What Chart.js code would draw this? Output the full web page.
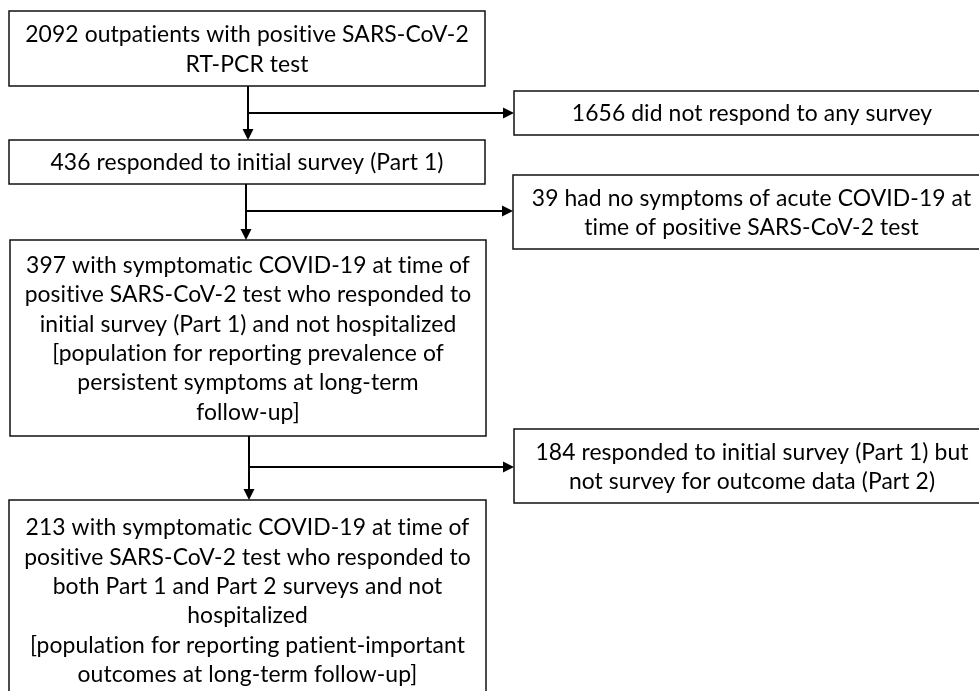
<!DOCTYPE html>
<html>
<head>
<meta charset="utf-8">
<script src="https://cdn.jsdelivr.net/npm/chart.js@4.4.0/dist/chart.umd.min.js"></script>
<style>
  html, body { margin: 0; padding: 0; background: #fff; }
  #wrap { width: 979px; height: 691px; }
</style>
</head>
<body>
<div id="wrap"><canvas id="flow"></canvas></div>
<script>
// box texts (main column, then exclusions)
var mainLabels = [
    ['2092 outpatients with positive SARS-CoV-2', 'RT-PCR test'],
    ['436 responded to initial survey (Part 1)'],
    ['397 with symptomatic COVID-19 at time of', 'positive SARS-CoV-2 test who responded to',
     'initial survey (Part 1) and not hospitalized', '[population for reporting prevalence of',
     'persistent symptoms at long-term', 'follow-up]'],
    ['213 with symptomatic COVID-19 at time of', 'positive SARS-CoV-2 test who responded to',
     'both Part 1 and Part 2 surveys and not', 'hospitalized',
     '[population for reporting patient-important', 'outcomes at long-term follow-up]']
];
var sideLabels = [
    ['1656 did not respond to any survey'],
    ['39 had no symptoms of acute COVID-19 at', 'time of positive SARS-CoV-2 test'],
    ['184 responded to initial survey (Part 1) but', 'not survey for outcome data (Part 2)']
];

// layout in axis units (x 0..979, y 0..691 top-down)
var mainBoxes = [[9, 11, 485, 86], [9, 140, 485, 184], [10, 240, 486, 436], [9, 500, 486, 720]];
var sideBoxes = [[514, 91, 990, 135], [513, 175, 990, 249], [514, 429, 990, 503]];
var stems = [[248, 113], [246, 211], [249, 467]]; // x of down arrow, y of branch

var fontFamily = 'Lato, "Noto Sans", sans-serif';
var lineGap = 29.3;

var flowPlugin = {
    id: 'flow',
    afterDraw: function(chart) {
        var ctx = chart.ctx;
        var sx = chart.scales.x, sy = chart.scales.y;
        function px(v) { return sx.getPixelForValue(v); }
        function py(v) { return sy.getPixelForValue(v); }

        // no "ti" ligatures, then fit font to the widest reference line (444px)
        ctx.letterSpacing = '0.1px';
        ctx.font = '24px ' + fontFamily;
        var fs = 24 * 444 / ctx.measureText(mainLabels[2][0]).width;
        var font = fs + 'px ' + fontFamily;

        function drawBox(b, lines) {
            ctx.save();
            ctx.strokeStyle = '#111';
            ctx.lineWidth = 1.5;
            ctx.strokeRect(px(b[0]), py(b[1]), px(b[2]) - px(b[0]), py(b[3]) - py(b[1]));
            ctx.fillStyle = '#000';
            ctx.font = font;
            ctx.letterSpacing = '0.1px';
            ctx.textAlign = 'center';
            ctx.textBaseline = 'middle';
            var cx = (px(b[0]) + px(b[2])) / 2;
            // last box runs off the bottom, so its text starts from the top
            var first = b[3] > 691 ? b[1] + 27
                : (b[1] + b[3]) / 2 - (lines.length - 1) * lineGap / 2;
            lines.forEach(function(t, i) {
                ctx.fillText(t, cx, py(first + i * lineGap) + 1);
            });
            ctx.restore();
        }

        function arrowHead(x, y, dir) {
            ctx.beginPath();
            if (dir === 'down') {
                ctx.moveTo(x, y); ctx.lineTo(x - 5.5, y - 11); ctx.lineTo(x + 5.5, y - 11);
            } else {
                ctx.moveTo(x, y); ctx.lineTo(x - 11, y - 5.5); ctx.lineTo(x - 11, y + 5.5);
            }
            ctx.closePath();
            ctx.fill();
        }

        mainBoxes.forEach(function(b, i) { drawBox(b, mainLabels[i]); });
        sideBoxes.forEach(function(b, i) { drawBox(b, sideLabels[i]); });

        ctx.save();
        ctx.strokeStyle = '#000';
        ctx.fillStyle = '#000';
        ctx.lineWidth = 2;
        stems.forEach(function(s, i) {
            var x = px(s[0]);
            var y0 = py(mainBoxes[i][3]), y1 = py(mainBoxes[i + 1][1]);
            var yb = py(s[1]), xr = px(sideBoxes[i][0]);
            ctx.beginPath();
            ctx.moveTo(x, y0); ctx.lineTo(x, y1 - 10);
            ctx.moveTo(x, yb); ctx.lineTo(xr - 10, yb);
            ctx.stroke();
            arrowHead(x, y1, 'down');
            arrowHead(xr, yb, 'right');
        });
        ctx.restore();
    }
};

new Chart(document.getElementById('flow').getContext('2d'), {
    type: 'scatter',
    data: { datasets: [] },
    options: {
        responsive: true,
        maintainAspectRatio: false,
        animation: false,
        layout: { padding: 0 },
        plugins: { legend: { display: false }, tooltip: { enabled: false } },
        scales: {
            x: { type: 'linear', min: 0, max: 979, display: false },
            y: { type: 'linear', min: 0, max: 691, reverse: true, display: false }
        }
    },
    plugins: [flowPlugin]
});
</script>
</body>
</html>
